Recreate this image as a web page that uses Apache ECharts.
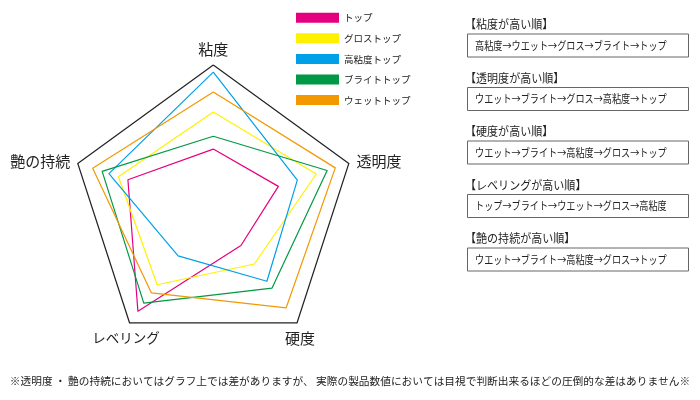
<!DOCTYPE html>
<html>
<head>
<meta charset="utf-8">
<script src="https://cdn.jsdelivr.net/npm/echarts@6/dist/echarts.min.js"></script>
<style>
html,body{margin:0;padding:0;background:#fff;}
#main{width:700px;height:400px;}
</style>
</head>
<body>
<div id="main"></div>
<script>
// Indicators (ECharts radar runs counter-clockwise from the top)
const indicators = ['粘度', '艶の持続', 'レベリング', '硬度', '透明度'];
const seriesNames = ['トップ', 'グロストップ', '高粘度トップ', 'ブライトトップ', 'ウェットトップ'];
const seriesColors = ['#e4007f', '#fff100', '#00a0e9', '#009944', '#f39800'];
// values in indicator order: 粘度, 艶の持続, レベリング, 硬度, 透明度
const topValues     = [41, 63, 90, 33, 48];
const glossValues   = [67, 70, 67, 49, 76];
const highVisValues = [95, 77, 42, 64, 62];
const brightValues  = [50, 82, 83, 70, 84];
const wetValues     = [81, 89, 74, 87, 90];
const maxValue = 100;

const rankTitles = ['【粘度が高い順】', '【透明度が高い順】', '【硬度が高い順】', '【レベリングが高い順】', '【艶の持続が高い順】'];
const rankTexts = [
  '高粘度→ウエット→グロス→ブライト→トップ',
  'ウエット→ブライト→グロス→高粘度→トップ',
  'ウエット→ブライト→高粘度→グロス→トップ',
  'トップ→ブライト→ウエット→グロス→高粘度',
  'ウエット→ブライト→高粘度→グロス→トップ'
];
const noteText = '※透明度 ・ 艶の持続においてはグラフ上では差がありますが、 実際の製品数値においては目視で判断出来るほどの圧倒的な差はありません※';

const FONT = '"Noto Sans CJK JP", sans-serif';
const allValues = [topValues, glossValues, highVisValues, brightValues, wetValues];

const chart = echarts.init(document.getElementById('main'), null, {renderer: 'canvas'});

const graphics = [];
rankTitles.forEach((t, i) => {
  const ty = 24.5 + i * 53.6;
  const by = 45.5 + i * 53.5;
  graphics.push({type: 'text', x: 465, y: ty, scaleX: 0.92, style: {text: t, font: '12px ' + FONT, fill: '#222', verticalAlign: 'middle'}});
  graphics.push({type: 'rect', shape: {x: 467.5, y: by - 11.5, width: 221, height: 23}, style: {fill: 'none', stroke: '#666', lineWidth: 1}});
  graphics.push({type: 'text', x: 475, y: by, scaleX: 0.83, style: {text: rankTexts[i], font: '11px ' + FONT, fill: '#222', verticalAlign: 'middle'}});
});
graphics.push({type: 'text', x: 350, y: 381, style: {text: noteText, font: '10.7px ' + FONT, fill: '#222', align: 'center', verticalAlign: 'middle'}});
// bottom axis names (placed under their vertices)
graphics.push({type: 'text', x: 300, y: 338, style: {text: '硬度', font: '15px ' + FONT, fill: '#222', align: 'center', verticalAlign: 'middle'}});
graphics.push({type: 'text', x: 126, y: 338, style: {text: 'レベリング', font: '13.5px ' + FONT, fill: '#222', align: 'center', verticalAlign: 'middle'}});

const option = {
  backgroundColor: '#fff',
  animation: false,
  color: seriesColors,
  legend: {
    orient: 'vertical',
    left: 296,
    top: 12.7,
    padding: 0,
    itemWidth: 43,
    itemHeight: 10,
    itemGap: 10.6,
    icon: 'rect',
    data: seriesNames,
    textStyle: {fontSize: 9.5, fontFamily: FONT, color: '#222', lineHeight: 10}
  },
  radar: {
    center: [213.3, 207.5],
    radius: 142.5,
    startAngle: 90,
    shape: 'polygon',
    splitNumber: 1,
    indicator: indicators.map(n => ({name: n, max: maxValue, min: 0})),
    axisName: {
      color: '#222',
      fontSize: 15,
      fontFamily: FONT,
      formatter: function (name) { return (name === '硬度' || name === 'レベリング') ? '' : name; }
    },
    nameGap: 8,
    axisLine: {show: false},
    axisTick: {show: false},
    axisLabel: {show: false},
    splitArea: {show: false},
    splitLine: {lineStyle: {color: '#222', width: 1.2}}
  },
  series: [{
    type: 'radar',
    symbol: 'none',
    lineStyle: {width: 1.2},
    data: seriesNames.map((n, i) => ({
      name: n,
      value: allValues[i],
      lineStyle: {color: seriesColors[i], width: 1.2},
      itemStyle: {color: seriesColors[i]}
    }))
  }],
  graphic: graphics
};
chart.setOption(option);
</script>
</body>
</html>
